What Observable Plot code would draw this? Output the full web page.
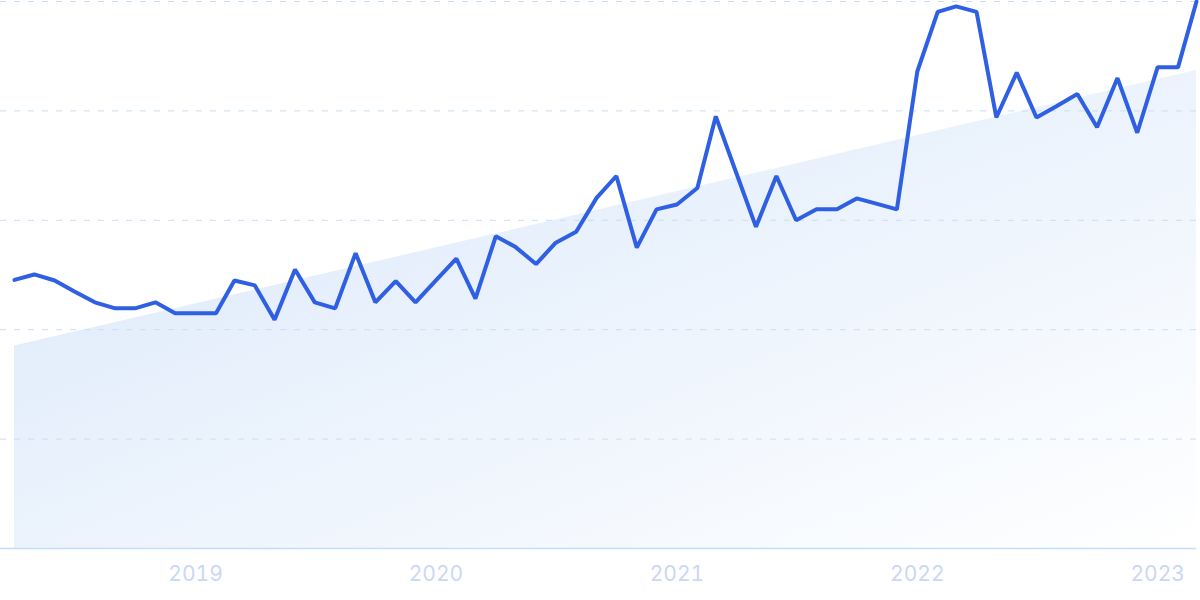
<!DOCTYPE html>
<html>
<head>
<meta charset="utf-8">
<script src="https://cdn.jsdelivr.net/npm/d3@7"></script>
<script src="https://cdn.jsdelivr.net/npm/@observablehq/plot@0.6"></script>
<style>
  html, body { margin: 0; padding: 0; background: #ffffff; }
  #chart { width: 1200px; height: 600px; }
</style>
</head>
<body>
<div id="chart"></div>
<script>
const months = [
  "2018-04","2018-05","2018-06","2018-07","2018-08","2018-09","2018-10","2018-11","2018-12",
  "2019-01","2019-02","2019-03","2019-04","2019-05","2019-06","2019-07","2019-08","2019-09","2019-10","2019-11","2019-12",
  "2020-01","2020-02","2020-03","2020-04","2020-05","2020-06","2020-07","2020-08","2020-09","2020-10","2020-11","2020-12",
  "2021-01","2021-02","2021-03","2021-04","2021-05","2021-06","2021-07","2021-08","2021-09","2021-10","2021-11","2021-12",
  "2022-01","2022-02","2022-03","2022-04","2022-05","2022-06","2022-07","2022-08","2022-09","2022-10","2022-11","2022-12",
  "2023-01","2023-02","2023-03"
];
const values = [
  49.1, 50.1, 49.0, 47.0, 45.0, 43.9, 43.9, 45.0, 43.0,
  43.0, 43.0, 49.0, 48.1, 41.8, 51.0, 45.0, 43.9, 54.0, 45.0, 48.9, 45.0,
  49.0, 53.0, 45.7, 57.1, 55.1, 52.0, 55.9, 57.9, 64.1, 68.1, 55.0, 62.0,
  62.9, 65.9, 79.0, 68.7, 58.8, 68.1, 60.0, 62.0, 62.0, 64.0, 63.0, 62.0,
  87.2, 98.1, 99.1, 98.1, 78.8, 87.0, 78.8, 80.9, 83.1, 77.0, 86.0, 76.0,
  88.0, 88.0, 100.0
];
const trendMonths = ["2018-04", "2023-03"];
const trendValues = [37.0, 87.4];
const gridValues = [20, 40, 60, 80, 100];
const yearTicks = ["2019-01", "2020-01", "2021-01", "2022-01", "2023-01"];
const yearLabels = ["2019", "2020", "2021", "2022", "2023"];

const parse = d3.utcParse("%Y-%m");
const series = months.map((m, i) => ({date: parse(m), value: values[i]}));
const trend = trendMonths.map((m, i) => ({date: parse(m), value: trendValues[i]}));
const tickDates = yearTicks.map(parse);

const plot = Plot.plot({
  width: 1200,
  height: 600,
  marginTop: 1,
  marginBottom: 52,
  marginLeft: 0,
  marginRight: 4,
  style: {fontFamily: "Inter, 'Noto Sans', sans-serif", background: "#ffffff"},
  x: {type: "utc", insetLeft: 14, domain: [series[0].date, series[series.length - 1].date]},
  y: {domain: [0, 100], axis: null},
  marks: [
    Plot.areaY(trend, {x: "date", y: "value", fill: "url(#trendGrad)"}),
    Plot.ruleY(gridValues, {stroke: "#c9def6", strokeWidth: 1, strokeDasharray: "6,8"}),
    Plot.ruleY([0], {stroke: "#c4ddf8", strokeWidth: 1.5}),
    Plot.line(series, {x: "date", y: "value", stroke: "#2f5fe3", strokeWidth: 4, strokeLinejoin: "miter", strokeLinecap: "round"}),
    Plot.axisX({
      ticks: tickDates,
      tickSize: 0,
      tickPadding: 0,
      tickFormat: (d) => yearLabels[tickDates.findIndex(t => +t === +d)],
      fill: "#cbd7f5",
      fontSize: 21,
      dy: 18,
      label: null
    })
  ]
});

const svg = d3.select(plot);
const defs = svg.insert("defs", ":first-child");
const grad = defs.append("linearGradient")
  .attr("id", "trendGrad")
  .attr("x1", "0").attr("y1", "0").attr("x2", "1").attr("y2", "1");
grad.append("stop").attr("offset", "0%").attr("stop-color", "#d8e7fa");
grad.append("stop").attr("offset", "100%").attr("stop-color", "#ffffff");

document.getElementById("chart").appendChild(plot);
</script>
</body>
</html>
